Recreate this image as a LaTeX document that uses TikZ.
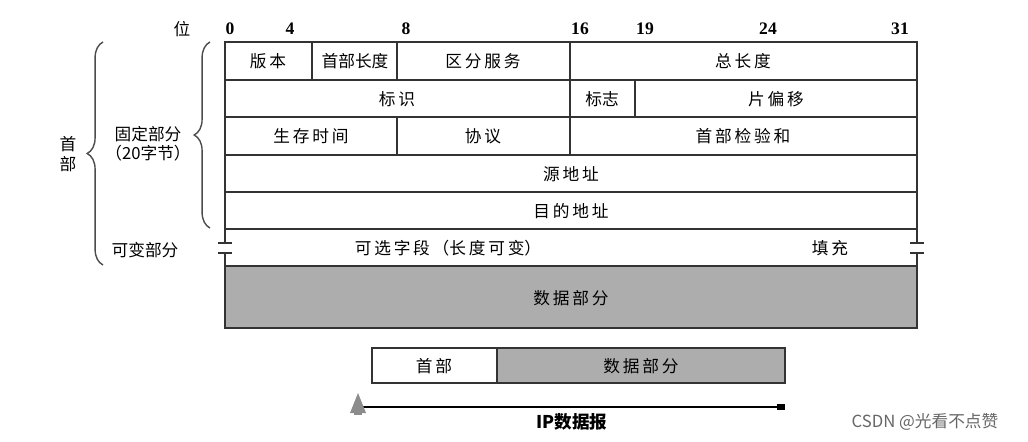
\documentclass[tikz,border=0pt]{standalone}
\usepackage{fontspec}
\setmainfont{Liberation Serif}
\newfontfamily\cjk{Noto Sans CJK SC}
\usetikzlibrary{decorations.pathreplacing}
\begin{document}
\begin{tikzpicture}[x=0.02cm,y=-0.02cm,
  lbl/.style={font=\cjk\fontsize{9.5}{11}\selectfont,inner sep=0pt},
  num/.style={font=\bfseries\fontsize{10}{11}\selectfont,inner sep=0pt},
  cell/.style={draw=black!80,line width=0.8pt},
  brc/.style={draw=black!70,line width=0.8pt,decorate,decoration={brace,amplitude=9pt}}]
\useasboundingbox (0,0) rectangle (1028,442);
% bit numbers
\node[lbl] (wei) at (182,29) {位};
\foreach \x/\t in {230/0,290/4,406/8,580/16,645/19,768/24,900/31}
  \node[num] (b\t) at (\x,29) {\t};
% fixed part rows
\draw[cell] (225,42) rectangle (917,229);
\foreach \y in {80,117,155,192} \draw[cell] (225,\y) -- (917,\y);
\draw[cell] (312,42) -- (312,80);
\draw[cell] (397,42) -- (397,80);
\draw[cell] (570,42) -- (570,155);
\draw[cell] (635,80) -- (635,117);
\draw[cell] (397,117) -- (397,155);
% optional row
\draw[cell] (225,229) -- (225,243) (225,253) -- (225,266);
\draw[cell] (917,229) -- (917,243) (917,253) -- (917,266);
\draw[cell] (218,243) -- (232,243) (218,253) -- (232,253);
\draw[cell] (910,243) -- (924,243) (910,253) -- (924,253);
% data part
\draw[cell,fill=black!32] (225,266) rectangle (917,328);
% text
\node[lbl] (v) at (268,61) {版\,本};
\node[lbl] (hl) at (355,61) {首部长度};
\node[lbl] (ds) at (483,61) {区\,分\,服\,务};
\node[lbl] (tl) at (743,61) {总\,长\,度};
\node[lbl] (id) at (397,99) {标\,识};
\node[lbl] (fl) at (602,99) {标志};
\node[lbl] (fo) at (776,99) {片\,偏\,移};
\node[lbl] (ttl) at (311,136) {生\,存\,时\,间};
\node[lbl] (pr) at (483,136) {协\,议};
\node[lbl] (ck) at (743,136) {首\,部\,检\,验\,和};
\node[lbl] (src) at (571,174) {源\,地\,址};
\node[lbl] (dst) at (571,211) {目\,的\,地\,址};
\node[lbl] (opt) at (448,248) {可\,选\,字\,段\,（长\,度\,可\,变）};
\node[lbl] (pad) at (830,248) {填\,充};
\node[lbl] (dat) at (571,298) {数\,据\,部\,分};
% left labels
\node[lbl,align=center] (fix) at (148,144) {固定部分\\（20字节）};
\node[lbl] (var) at (145,250) {可变部分};
\node[lbl,align=center] (hd) at (68,154) {首\\部};
\draw[brc] (210,228) -- (210,42);
\draw[brc] (103,265) -- (103,42);
% bottom bar
\draw[cell] (372,348) rectangle (497,383);
\draw[cell,fill=black!32] (497,348) rectangle (785,383);
\node[lbl] (h2) at (434,366) {首\,部};
\node[lbl] (d2) at (641,366) {数\,据\,部\,分};
\coordinate (ps) at (356,407);
\coordinate (pe) at (782,407);
\draw[line width=1pt] (ps) -- (pe);
\fill[black!45] (350,413) -- (358,393) -- (366,413) -- cycle;
\fill[black!45] (354,407) rectangle (362,415);
\fill (777,404) rectangle (785,410);
\node[lbl,font=\cjk\bfseries\fontsize{10}{11}\selectfont] (ip) at (572,422) {IP数据报};
\node[lbl,text=black!60,font=\cjk\fontsize{9.5}{11}\selectfont] (wm) at (925,422) {CSDN @光看不点赞};
\end{tikzpicture}
\end{document}
